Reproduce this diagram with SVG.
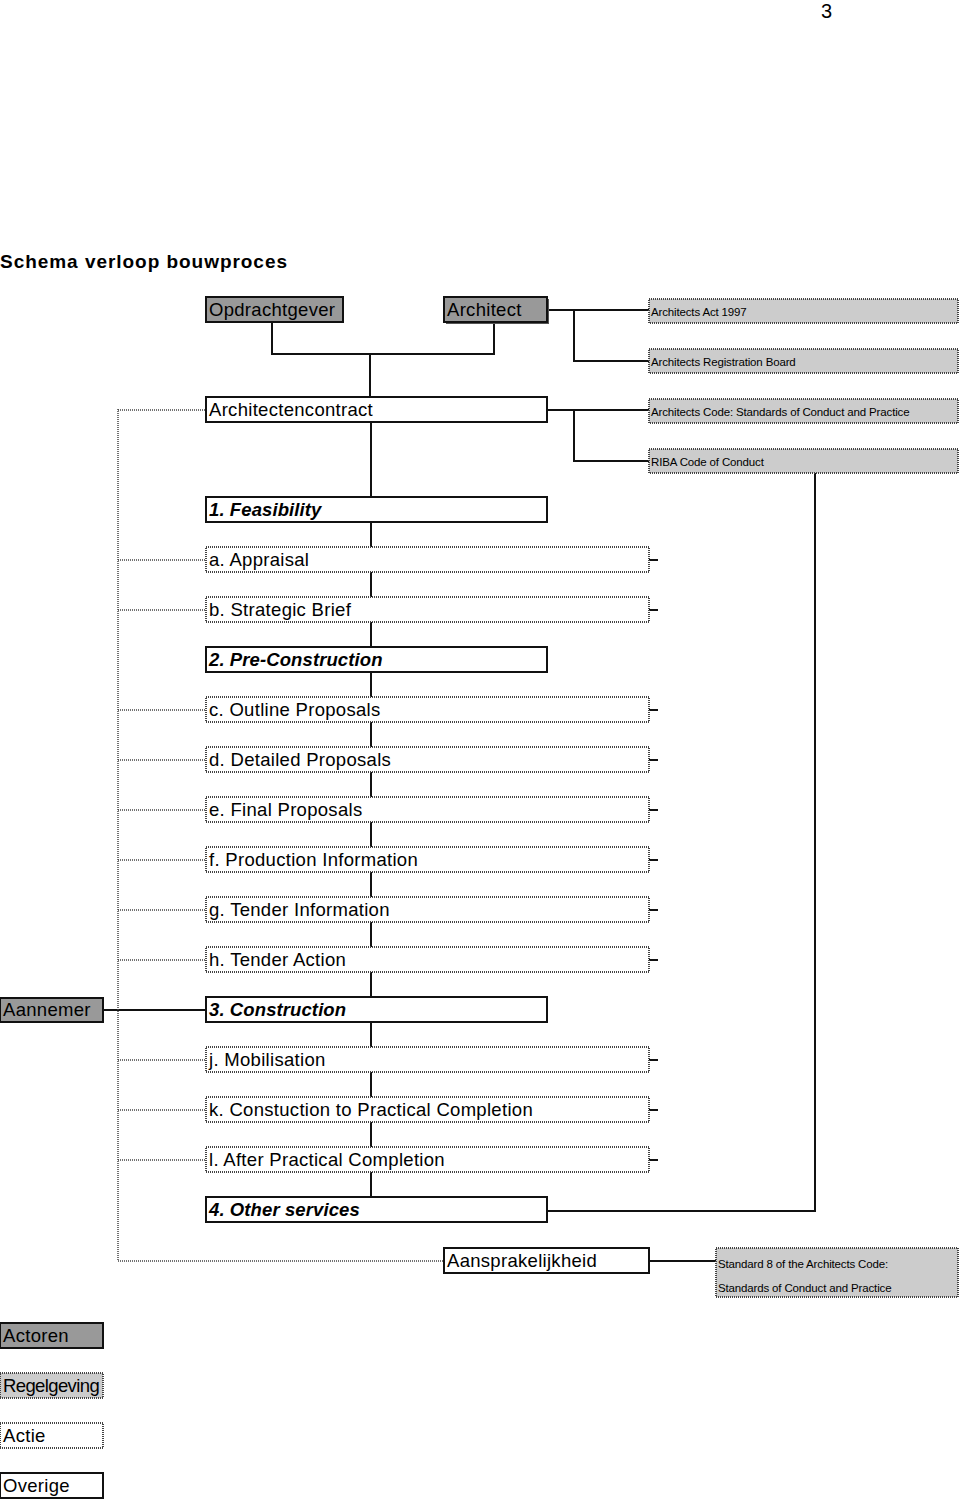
<svg xmlns="http://www.w3.org/2000/svg" width="960" height="1504" viewBox="0 0 960 1504">
<style>
text{font-family:"Liberation Sans",Arial,sans-serif;fill:#000}
.t{font-size:18.5px;letter-spacing:0.3px}
.ph{font-size:18.5px;font-weight:bold;font-style:italic;letter-spacing:0.1px}
.s{font-size:11.5px;letter-spacing:-0.15px}
.actor{fill:#999;stroke:#111;stroke-width:2}
.reg{fill:#ccc;stroke:#444;stroke-width:2;stroke-dasharray:1 1}
.act{fill:#fff;stroke:#444;stroke-width:2;stroke-dasharray:1 1}
.oth{fill:#fff;stroke:#111;stroke-width:2}
.ln{stroke:#111;stroke-width:2;fill:none}
.dl{stroke:#444;stroke-width:1.5;stroke-dasharray:1 1;fill:none}
</style>
<rect width="960" height="1504" fill="#fff"/>
<text x="821" y="18" style="font-size:20px">3</text>
<text x="0" y="268" style="font-size:19px;font-weight:bold" textLength="287">Schema verloop bouwproces</text>

<g id="connectors">
<path class="ln" d="M272 322V354H494V322M370 354V397"/>
<path class="ln" d="M371 422V1197"/>
<path class="ln" d="M547 310H649M574 310V361H649"/>
<path class="ln" d="M547 410H649M574 410V461H649"/>
<path class="ln" d="M815 473V1211H547"/>
<path class="ln" d="M649 560H658M649 610H658M649 710H658M649 760H658M649 810H658M649 860H658M649 910H658M649 960H658M649 1060H658M649 1110H658M649 1160H658"/>
<path class="ln" d="M103 1010H206"/>
<path class="ln" d="M649 1261H716"/>
<path class="dl" d="M118 409V1261H444M118 410H206M118 560H206M118 610H206M118 710H206M118 760H206M118 810H206M118 860H206M118 910H206M118 960H206M118 1060H206M118 1110H206M118 1160H206"/>
</g>

<g id="opdrachtgever"><rect class="actor" x="206" y="297" width="137" height="25"/><text class="t" x="209" y="316">Opdrachtgever</text></g>
<g id="architect"><rect x="446" y="299" width="103" height="25" fill="#555"/><rect class="actor" x="444" y="297" width="103" height="25"/><text class="t" x="447" y="316">Architect</text></g>
<g id="architects-act"><rect class="reg" x="649" y="299" width="309" height="24"/><text class="s" x="651" y="316">Architects Act 1997</text></g>
<g id="arb"><rect class="reg" x="649" y="349" width="309" height="24"/><text class="s" x="651" y="366">Architects Registration Board</text></g>
<g id="architects-code"><rect class="reg" x="649" y="399" width="309" height="24"/><text class="s" x="651" y="416">Architects Code: Standards of Conduct and Practice</text></g>
<g id="riba"><rect class="reg" x="649" y="449" width="309" height="24"/><text class="s" x="651" y="466">RIBA Code of Conduct</text></g>
<g id="architectencontract"><rect class="oth" x="206" y="397" width="341" height="25"/><text class="t" x="209" y="416">Architectencontract</text></g>

<g id="feasibility"><rect class="oth" x="206" y="497" width="341" height="25"/><text class="ph" x="209" y="516">1. Feasibility</text></g>
<g id="appraisal"><rect class="act" x="206" y="547" width="443" height="25"/><text class="t" x="209" y="566">a. Appraisal</text></g>
<g id="strategic-brief"><rect class="act" x="206" y="597" width="443" height="25"/><text class="t" x="209" y="616">b. Strategic Brief</text></g>
<g id="pre-construction"><rect class="oth" x="206" y="647" width="341" height="25"/><text class="ph" x="209" y="666">2. Pre-Construction</text></g>
<g id="outline-proposals"><rect class="act" x="206" y="697" width="443" height="25"/><text class="t" x="209" y="716">c. Outline Proposals</text></g>
<g id="detailed-proposals"><rect class="act" x="206" y="747" width="443" height="25"/><text class="t" x="209" y="766">d. Detailed Proposals</text></g>
<g id="final-proposals"><rect class="act" x="206" y="797" width="443" height="25"/><text class="t" x="209" y="816">e. Final Proposals</text></g>
<g id="production-information"><rect class="act" x="206" y="847" width="443" height="25"/><text class="t" x="209" y="866">f.  Production Information</text></g>
<g id="tender-information"><rect class="act" x="206" y="897" width="443" height="25"/><text class="t" x="209" y="916">g. Tender Information</text></g>
<g id="tender-action"><rect class="act" x="206" y="947" width="443" height="25"/><text class="t" x="209" y="966">h. Tender Action</text></g>
<g id="aannemer"><rect class="actor" x="0" y="998" width="103" height="24"/><text class="t" x="3" y="1016">Aannemer</text></g>
<g id="construction"><rect class="oth" x="206" y="997" width="341" height="25"/><text class="ph" x="209" y="1016">3. Construction</text></g>
<g id="mobilisation"><rect class="act" x="206" y="1047" width="443" height="25"/><text class="t" x="209" y="1066">j. Mobilisation</text></g>
<g id="constuction-to-pc"><rect class="act" x="206" y="1097" width="443" height="25"/><text class="t" x="209" y="1116">k. Constuction to Practical Completion</text></g>
<g id="after-pc"><rect class="act" x="206" y="1147" width="443" height="25"/><text class="t" x="209" y="1166">l. After Practical Completion</text></g>
<g id="other-services"><rect class="oth" x="206" y="1197" width="341" height="25"/><text class="ph" x="209" y="1216">4. Other services</text></g>
<g id="aansprakelijkheid"><rect class="oth" x="444" y="1248" width="205" height="25"/><text class="t" x="447" y="1267">Aansprakelijkheid</text></g>
<g id="standard-8"><rect class="reg" x="716" y="1248" width="242" height="49"/><text class="s" x="718" y="1268">Standard 8 of the Architects Code:</text><text class="s" x="718" y="1292">Standards of Conduct and Practice</text></g>

<g id="legend-actoren"><rect class="actor" x="0" y="1323" width="103" height="25"/><text class="t" x="3" y="1342">Actoren</text></g>
<g id="legend-regelgeving"><rect class="reg" x="0" y="1373" width="103" height="25"/><text class="t" x="3" y="1392" textLength="97">Regelgeving</text></g>
<g id="legend-actie"><rect class="act" x="0" y="1423" width="103" height="25"/><text class="t" x="3" y="1442">Actie</text></g>
<g id="legend-overige"><rect class="oth" x="0" y="1473" width="103" height="25"/><text class="t" x="3" y="1492">Overige</text></g>
</svg>
